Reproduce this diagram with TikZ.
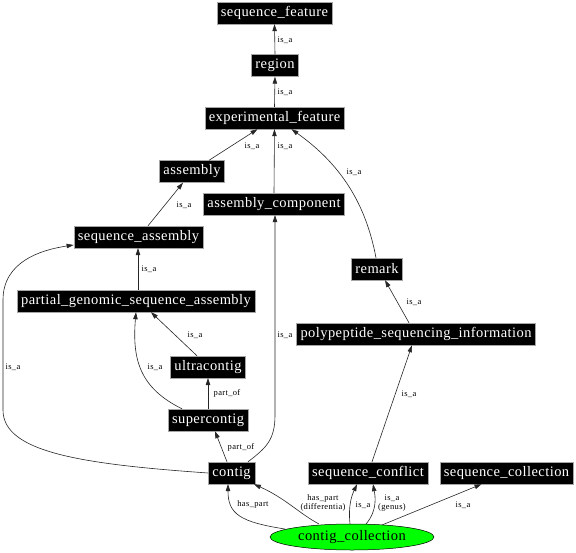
\documentclass[tikz,border=0pt]{standalone}
\usepackage{fontspec}
\setmainfont{Liberation Serif}
\newfontfamily\boxfont[LetterSpace=3]{Liberation Serif}
\newfontfamily\labfont[LetterSpace=4]{Liberation Serif}
\usetikzlibrary{arrows.meta,shapes.geometric,calc}
\begin{document}
\begin{tikzpicture}[x=1pt,y=-1pt,
  box/.style={rectangle,fill=black,draw=gray!70,line width=0.4pt,text=white,inner xsep=4pt,inner ysep=0pt,minimum height=22pt,font=\boxfont\fontsize{14.5}{16}\selectfont},
  ell/.style={ellipse,fill=green,draw=black,line width=0.5pt,minimum width=164pt,minimum height=26pt,inner sep=0pt,font=\boxfont\fontsize{14.5}{16}\selectfont},
  e/.style={draw=black!85,line width=0.6pt,-{Triangle[length=7pt,width=4.5pt]}},
  lab/.style={font=\labfont\fontsize{8.5}{8.5}\selectfont,inner sep=0pt,align=center}]
\useasboundingbox (0,0) rectangle (576,552);
% nodes
\node[box] (sf) at (274.5,13) {sequence\_feature};
\node[box] (region) at (275,65.5) {region};
\node[box] (ef) at (274.5,118) {experimental\_feature};
\node[box] (assembly) at (192,171.5) {assembly};
\node[box] (ac) at (274,204) {assembly\_component};
\node[box] (sa) at (138.5,237) {sequence\_assembly};
\node[box] (pgsa) at (136,301) {partial\_genomic\_sequence\_assembly};
\node[box] (remark) at (377,269) {remark};
\node[box] (ppsi) at (416,334) {polypeptide\_sequencing\_information};
\node[box] (ultra) at (208,367) {ultracontig};
\node[box] (super) at (208,420) {supercontig};
\node[box] (contig) at (231.5,473) {contig};
\node[box] (sconf) at (368,473) {sequence\_conflict};
\node[box] (scoll) at (506.5,473) {sequence\_collection};
\node[ell] (cc) at (352,537) {contig\_collection};
% edges
\draw[e] (region.north) -- (sf.south);
\draw[e] (ef.north) -- (region.south);
\draw[e] ($(assembly.north)+(17,0)$) -- ($(ef.south)+(-17,0)$);
\draw[e] (ac.north) -- (ef.south);
\draw[e] ($(remark.north)+(-1,0)$) .. controls (366,205) and (342,165) .. ($(ef.south)+(17,0)$);
\draw[e] ($(sa.north)+(9.5,0)$) -- ($(assembly.south)+(-9,0)$);
\draw[e] ($(pgsa.north)+(2,0)$) -- ($(sa.south)+(-0.5,0)$);
\draw[e] ($(ppsi.north)+(-7,0)$) -- ($(remark.south)+(8,0)$);
\draw[e] ($(ultra.north)+(-11,0)$) -- ($(pgsa.south)+(15,0)$);
\draw[e] ($(super.north)+(-26,0)$) .. controls (140,388) and (132,360) .. (pgsa.south);
\draw[e] (super.north) -- (ultra.south);
\draw[e] ($(contig.north)+(-4.5,0)$) -- ($(super.south)+(7,0)$);
\draw[e] (contig.west) .. controls (80,464) and (3,452) .. (3,410) -- (3,300) .. controls (3,262) and (40,250) .. ($(sa.west)+(0,8)$);
\draw[e] ($(contig.north)+(16.5,0)$) .. controls (266,448) and (275,440) .. ($(ac.south)+(1,200)$) -- ($(ac.south)+(1,0)$);
\draw[e] ($(sconf.north)+(4,0)$) -- ($(ppsi.south)+(-4,0)$);
\draw[e] ($(cc.center)+(-67,-8)$) .. controls (240,522) and (228,514) .. ($(contig.south)+(-3.5,0)$);
\draw[e] ($(cc.center)+(-33,-13)$) .. controls (300,514) and (285,498) .. ($(contig.south east)+(-1,0)$);
\draw[e] ($(cc.center)+(-2,-13)$) .. controls (348,505) and (352,495) .. ($(sconf.south)+(-11,0)$);
\draw[e] ($(cc.center)+(14,-13)$) .. controls (378,510) and (375,495) .. ($(sconf.south)+(5,0)$);
\draw[e] ($(cc.center)+(30,-12)$) -- ($(scoll.south)+(-25,0)$);
% labels
\node[lab] (l1) at (285,40) {is\_a};
\node[lab] (l2) at (285,92) {is\_a};
\node[lab] (l3) at (252,146) {is\_a};
\node[lab] (l4) at (285,146) {is\_a};
\node[lab] (l5) at (354,172) {is\_a};
\node[lab] (l6) at (184,205) {is\_a};
\node[lab] (l7) at (149,269) {is\_a};
\node[lab] (l8) at (414,302) {is\_a};
\node[lab] (l9) at (195,335) {is\_a};
\node[lab] (l10) at (155,367) {is\_a};
\node[lab] (l11) at (13,367) {is\_a};
\node[lab] (l12) at (285,335) {is\_a};
\node[lab] (l13) at (227,393) {part\_of};
\node[lab] (l14) at (241,447) {part\_of};
\node[lab] (l15) at (253,504) {has\_part};
\node[lab] (l16) at (409,394) {is\_a};
\node[lab] (l17) at (323,503) {has\_part\\(differentia)};
\node[lab] (l18) at (363,505) {is\_a};
\node[lab] (l19) at (392,503) {is\_a\\(genus)};
\node[lab] (l20) at (463,505) {is\_a};
\end{tikzpicture}
\end{document}
